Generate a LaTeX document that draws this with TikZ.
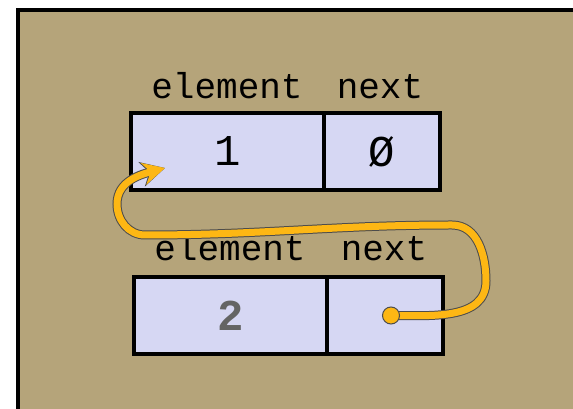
\documentclass[tikz,border=0pt]{standalone}
\usepackage{fontspec}
\setmonofont{Liberation Mono}
\usetikzlibrary{arrows.meta}
\definecolor{bgtan}{RGB}{181,164,122}
\definecolor{cellfill}{RGB}{214,215,243}
\definecolor{ptrgold}{RGB}{253,183,20}
\definecolor{valgray}{RGB}{100,100,100}
\tikzset{
  cell/.style={rectangle,draw=black,fill=cellfill,line width=4.5pt,minimum height=77pt,inner sep=0pt},
  fieldlbl/.style={anchor=base,inner sep=0pt,font=\fontsize{36}{40}\selectfont\ttfamily},
  val/.style={font=\fontsize{44}{48}\selectfont\ttfamily},
  ptr/.style={draw=ptrgold,line width=7pt,line cap=round,-{Stealth[length=22pt,width=22pt]},
    preaction={draw=black!70,line width=9pt,line cap=round,-{Stealth[length=24pt,width=25pt]}}}
}
\begin{document}
\begin{tikzpicture}[x=1pt,y=1pt]
\useasboundingbox (0,0) rectangle (573,409);
\draw[fill=bgtan,line width=4pt] (18,-10) rectangle (590,399);
% first node
\node[cell,minimum width=193pt] (elem1) at (227.5,257.5) {};
\node[cell,minimum width=116pt] (next1) at (382,257.5) {};
\node[val] (v1) at (elem1.center) {1};
\node[val] (n1) at (next1.center) {Ø};
\node[fieldlbl] (le1) at (227,310) {element};
\node[fieldlbl] (ln1) at (380,310) {next};
% second node
\node[cell,minimum width=193pt] (elem2) at (230.5,93.5) {};
\node[cell,minimum width=116pt] (next2) at (385,93.5) {};
\node[val,font=\fontsize{44}{48}\selectfont\ttfamily\bfseries,text=valgray] (v2) at (elem2.center) {2};
\node[fieldlbl] (le2) at (230,148) {element};
\node[fieldlbl] (ln2) at (384,148) {next};
% pointer
\coordinate (ptrsrc) at ([xshift=6pt]next2.center);
\coordinate (ptrdst) at (165,241);
\draw[ptr] (ptrsrc) to[out=0,in=-90] (486,128) to[out=90,in=0] (452,184)
  to[out=180,in=0] (145,174) to[out=180,in=-90] (117,205) to[out=90,in=195] (ptrdst);
\filldraw[fill=ptrgold,draw=black!70,line width=1pt] (ptrsrc) circle (8.5pt);
\end{tikzpicture}
\end{document}
